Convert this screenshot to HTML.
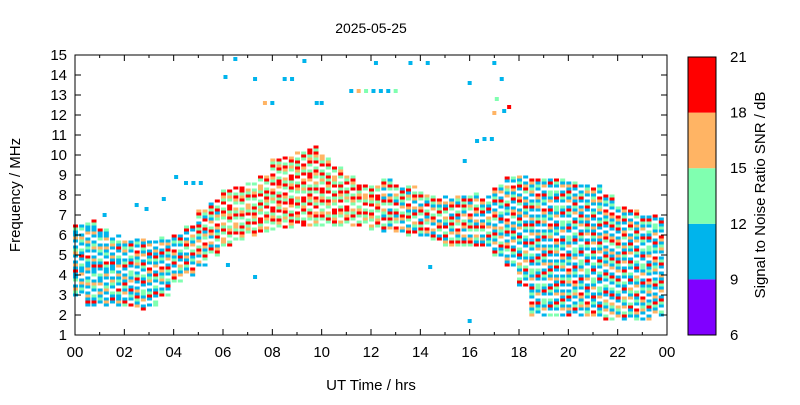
<!DOCTYPE html>
<html><head><meta charset="utf-8"><style>
body{margin:0;background:#fff;font-family:"Liberation Sans",sans-serif}
svg text{font-family:"Liberation Sans",sans-serif;font-size:15px;fill:#000}
</style></head><body>
<svg id="c" width="800" height="400" xmlns="http://www.w3.org/2000/svg">
<text x="371" y="33" text-anchor="middle" style="font-size:14px">2025-05-25</text>
<g id="marks"></g>
<g id="axes"></g>
<text x="371" y="390" text-anchor="middle">UT Time / hrs</text>
<text transform="translate(20,195) rotate(-90)" text-anchor="middle">Frequency / MHz</text>
<text transform="translate(765,195) rotate(-90)" text-anchor="middle">Signal to Noise Ratio SNR / dB</text>
</svg>
<script>
// half-hourly band limits (MHz), 0..24h
const bandLo=[3.0,2.5,2.5,2.5,2.5,2.3,2.5,3.0,3.7,4.0,4.5,5.0,5.5,5.8,6.0,6.2,6.3,6.4,6.5,6.5,6.5,6.5,6.5,6.5,6.3,6.2,6.2,6.0,6.0,5.8,5.5,5.5,5.5,5.5,5.0,4.5,3.5,2.0,2.0,2.0,2.0,2.0,2.0,1.8,1.8,1.8,1.8,2.0,2.0];
const bandHi=[6.5,6.8,6.3,6.0,5.8,5.8,5.8,6.0,6.0,6.5,7.3,7.8,8.3,8.5,8.6,9.0,9.8,10.0,10.2,10.5,10.0,9.5,9.0,8.5,8.5,8.8,8.6,8.5,8.2,8.0,8.0,8.2,8.2,8.0,8.5,9.0,9.0,8.8,8.8,8.8,8.7,8.5,8.5,8.0,7.5,7.3,7.0,7.0,7.0];
const bandBias=[-2,-2,-2,-2,-1,-1,-1,-1,0,0,1,1,2,2,2,2,3,3,3,3,2,2,2,2,2,1,1,1,1,1,1,1,1,0,0,0,0,-1,-1,-1,-1,-1,-1,0,0,0,-1,-1,-1];
const snrPattern=[10,14,19,11,0,16,10,13,20,11,17,10,0,12,19,15,10,0,11,18,13,10,16,20,0,11,14,10,19,12,0,17,10,13,15,0,11,20,10,14,0];
const strayT=[6.5,6.1,7.3,8.5,8.8,9.3,7.7,8.0,9.8,10.0,11.2,11.5,11.8,12.1,12.4,12.7,13.0,12.2,13.6,14.3,16.0,17.0,17.3,17.1,17.0,17.4,17.6,16.6,16.9,16.3,15.8,6.2,7.3,14.4,16.0,3.6,4.1,1.2,2.5,2.9,4.5,4.8,5.1];
const strayF=[14.8,13.9,13.8,13.8,13.8,14.7,12.6,12.6,12.6,12.6,13.2,13.2,13.2,13.2,13.2,13.2,13.2,14.6,14.6,14.6,13.6,14.6,13.8,12.8,12.1,12.2,12.4,10.8,10.8,10.7,9.7,4.5,3.9,4.4,1.7,7.8,8.9,7.0,7.5,7.3,8.6,8.6,8.6];
const strayS=[10,10,10,10,10,10,16,10,10,10,10,16,14,10,10,10,14,10,10,10,10,10,10,14,16,10,19,10,10,10,10,10,10,10,10,10,10,10,10,10,10,10,10];
const xTicks=["00","02","04","06","08","10","12","14","16","18","20","22","00"];
const yTicks=[1,2,3,4,5,6,7,8,9,10,11,12,13,14,15];
const cbTicks=[6,9,12,15,18,21];
const X0=75,X1=667,Y0=335,Y1=55;
const xs=t=>X0+(X1-X0)*t/24, ys=f=>Y0-(Y0-Y1)*(f-1)/14;
const cbY=s=>335-(335-57)*(s-6)/15;
function col(s){return s<9?'#8000ff':s<12?'#00b4ec':s<15?'#80ffb0':s<18?'#ffb464':'#ff0000';}
const NS='http://www.w3.org/2000/svg';
function mk(tag,a,p){const e=document.createElementNS(NS,tag);for(const k in a)e.setAttribute(k,a[k]);p.appendChild(e);return e;}
const marks=document.getElementById('marks'),axes=document.getElementById('axes');
let k=0;
for(let q=0;q<96;q++){
  const t=q*0.25, i=Math.floor(q/2);
  const lo=bandLo[i],hi=bandHi[i];
  for(let f=lo;f<=hi;f+=0.15){
    let s=snrPattern[k++%snrPattern.length];
    if(!s)continue;
    s=Math.max(9.5,Math.min(20.5,s+bandBias[i]));
    const r=mk('rect',{x:xs(t)-2,y:ys(f)-1.5,width:5,height:3,fill:col(s)},marks);
    
    
  }
}
strayT.forEach((t,j)=>{
  const r=mk('rect',{x:xs(t)-2,y:ys(strayF[j])-2,width:4,height:4,fill:col(strayS[j])},marks);
  
  
});
mk('rect',{x:X0,y:Y1,width:X1-X0,height:Y0-Y1,fill:'none',stroke:'#000','stroke-width':1},axes);
xTicks.forEach((l,j)=>{const x=xs(j*2);
  mk('line',{x1:x,y1:Y0,x2:x,y2:Y0-6,stroke:'#000'},axes);mk('line',{x1:x,y1:Y1,x2:x,y2:Y1+6,stroke:'#000'},axes);
  if(j<12){const xm=xs(j*2+1);mk('line',{x1:xm,y1:Y0,x2:xm,y2:Y0-3,stroke:'#000'},axes);mk('line',{x1:xm,y1:Y1,x2:xm,y2:Y1+3,stroke:'#000'},axes);}
  const tx=mk('text',{x:x,y:Y0+22,'text-anchor':'middle'},axes);tx.textContent=l;
  });
yTicks.forEach(v=>{const y=ys(v);
  mk('line',{x1:X0,y1:y,x2:X0+6,y2:y,stroke:'#000'},axes);mk('line',{x1:X1,y1:y,x2:X1-6,y2:y,stroke:'#000'},axes);
  const tx=mk('text',{x:X0-8,y:y+5,'text-anchor':'end'},axes);tx.textContent=v;
  });
for(let j=0;j<5;j++){const s=6+j*3;
  const r=mk('rect',{x:688,y:cbY(s+3),width:28,height:cbY(s)-cbY(s+3),fill:col(s+1)},axes);
  }
mk('rect',{x:688,y:57,width:28,height:278,fill:'none',stroke:'#000'},axes);
cbTicks.forEach(v=>{const tx=mk('text',{x:730,y:cbY(v)+5},axes);tx.textContent=v;
  });
</script>
</body></html>
